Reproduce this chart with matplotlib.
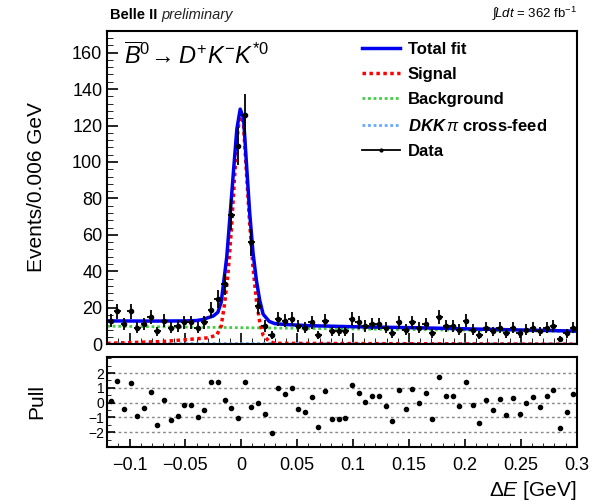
import numpy as np
import matplotlib
matplotlib.use("Agg")
import matplotlib.pyplot as plt
from matplotlib.lines import Line2D
from matplotlib.ticker import MultipleLocator

plt.rcParams['font.family'] = ['Liberation Sans', 'DejaVu Sans']
plt.rcParams['mathtext.fontset'] = 'custom'
plt.rcParams['mathtext.rm'] = 'Liberation Sans'
plt.rcParams['mathtext.it'] = 'Liberation Sans:italic'
plt.rcParams['mathtext.bf'] = 'Liberation Sans:bold'
plt.rcParams['mathtext.bfit'] = 'Liberation Sans:italic:bold'

# binning: 70 bins of 0.006 GeV from -0.12 to 0.3
bin_lo, bin_hi, n_bins = -0.12, 0.3, 70
edges = np.linspace(bin_lo, bin_hi, n_bins + 1)
centers = 0.5 * (edges[:-1] + edges[1:])

# data counts per bin
data_counts = [13, 18, 11, 18, 9, 11, 15, 7, 13, 9,
               10, 12, 12, 9, 12, 19, 25, 33, 71, 109,
               126, 56, 21, 10, 5, 14, 13, 14, 10, 9,
               12, 5, 13, 7, 7, 7, 14, 12, 10, 11,
               11, 9, 6, 12, 8, 12, 9, 11, 6, 15,
               10, 10, 8, 13, 8, 5, 9, 7, 9, 6,
               9, 6, 8, 9, 7, 9, 10, 3, 6, 9]

# pulls per bin
pulls = [0.1, 1.46, -0.43, 1.33, -0.92, -0.36, 0.72, -1.5, 0.2, -1.15,
         -0.88, -0.13, -0.13, -0.99, -0.49, 1.37, 1.37, 0.2, -0.34, -1.03,
         1.37, -0.27, -0.04, -0.79, -2.02, 0.97, 0.58, 0.97, -0.4, -0.61,
         0.38, -1.64, 0.79, -1.12, -1.08, -1.03, 1.21, 0.67, 0.02, 0.45,
         0.45, -0.2, -1.24, 0.88, -0.43, 0.92, -0.04, 0.67, -1.08, 1.75,
         0.45, 0.45, -0.22, 1.39, -0.18, -1.37, 0.2, -0.49, 0.27, -0.83,
         0.34, -0.74, -0.04, 0.4, -0.31, 0.45, 0.85, -1.69, -0.63, 0.56]

# fit curves
total_x = [-0.12, -0.08, -0.05, -0.04, -0.035, -0.03, -0.025, -0.021, -0.018,
           -0.0156, -0.013, -0.0099, -0.007, -0.004, -0.001, 0.002, 0.0045,
           0.0075, 0.0105, 0.0135, 0.0165, 0.0195, 0.025, 0.03, 0.04, 0.06,
           0.1, 0.16, 0.22, 0.3]
total_y = [12.8, 12.7, 12.8, 13.0, 13.5, 14.5, 15.5, 17.5, 23,
           35, 48, 72, 95, 118, 129, 124, 100,
           72, 50, 35, 24, 16.5, 12.5, 11.3, 10.8, 10.2,
           9.6, 9.0, 8.2, 7.2]

signal_x = [-0.12, -0.07, -0.05, -0.03, -0.022, -0.018, -0.015, -0.012, -0.009,
            -0.006, -0.003, -0.0005, 0.002, 0.0045, 0.0075, 0.0105, 0.0135,
            0.0165, 0.0195, 0.025, 0.03, 0.3]
signal_y = [0.5, 1.5, 2.5, 3.5, 5, 10, 22, 38, 62,
            92, 118, 127, 120, 95, 66, 42, 24,
            12, 5, 1.5, 0.5, 0.0]

bkg_x = [-0.12, 0.3]
bkg_y = [9.9, 7.0]

xfeed_x = [-0.12, 0.0, 0.3]
xfeed_y = [0.2, 0.4, 0.2]

xtick_vals = [-0.1, -0.05, 0, 0.05, 0.1, 0.15, 0.2, 0.25, 0.3]
xtick_labels = ['\u22120.1', '\u22120.05', '0', '0.05', '0.1', '0.15', '0.2', '0.25', '0.3']

fig = plt.figure(figsize=(6.02, 5.04), dpi=100)
ax = fig.add_axes([0.178, 0.317, 0.780, 0.622])
axp = fig.add_axes([0.178, 0.113, 0.780, 0.179])

ax.plot(bkg_x, bkg_y, color='#44cc44', lw=2, ls=(0, (1, 1)))
ax.plot(xfeed_x, xfeed_y, color='#66aaff', lw=2, ls=(0, (1, 1)))
ax.plot(signal_x, signal_y, color='red', lw=2.5, ls=(0, (1, 1)))
ax.plot(total_x, total_y, color='#0000ee', lw=2.5)
counts = np.array(data_counts, dtype=float)
ax.errorbar(centers, counts, yerr=np.sqrt(counts), xerr=0.003, fmt='o',
            color='black', ms=3, lw=1.3, capsize=0)

ax.set_xlim(bin_lo, bin_hi)
ax.set_ylim(0, 172)
ax.yaxis.set_major_locator(MultipleLocator(20))
ax.yaxis.set_minor_locator(MultipleLocator(4))
ax.xaxis.set_major_locator(MultipleLocator(0.05))
ax.xaxis.set_minor_locator(MultipleLocator(0.01))
ax.tick_params(axis='x', labelbottom=False)
ax.tick_params(which='both', direction='in', top=False, right=False, labelsize=13)
ax.tick_params(which='major', length=8, width=1.2)
ax.tick_params(which='minor', length=4)
for s in ax.spines.values():
    s.set_linewidth(1.5)
ax.set_ylabel('Events/0.006 GeV', fontsize=15)
ax.yaxis.set_label_coords(-0.13, 0.5)

ax.text(0.035, 0.965, r'$\overline{B}^{0}\!\rightarrow D^{+}K^{-}K^{*0}$',
        transform=ax.transAxes, fontsize=17, va='top', ha='left')

handles = [Line2D([], [], color='#0000ee', lw=2.5),
           Line2D([], [], color='red', lw=2.5, ls=(0, (1, 1))),
           Line2D([], [], color='#44cc44', lw=2, ls=(0, (1, 1))),
           Line2D([], [], color='#66aaff', lw=2, ls=(0, (1, 1))),
           Line2D([], [], color='black', lw=1.3, marker='o', ms=2)]
labels = ['Total fit', 'Signal', 'Background',
          r'$\mathbfit{DKK}\,\pi$ cross-feed', 'Data']
ax.legend(handles, labels, loc='upper left', bbox_to_anchor=(0.52, 1.0),
          frameon=False, prop={'weight': 'bold', 'size': 12},
          handlelength=2.3, handletextpad=0.45, labelspacing=0.62,
          borderaxespad=0.25)

fig.text(0.183, 0.956, 'Belle II', fontsize=10.5, fontweight='bold', va='bottom')
fig.text(0.268, 0.956, 'preliminary', fontsize=10.5, style='italic',
         va='bottom', color='#222222')
fig.text(0.958, 0.956, r'$\int\! Ldt$ = 362 fb$^{-1}$', fontsize=9.5,
         ha='right', va='bottom')

axp.plot(centers, pulls, 'o', color='black', ms=3)
for yv in [-2, -1, 0, 1, 2]:
    axp.axhline(yv, color='#888888', lw=1, ls=(0, (2, 2)), zorder=0)
axp.set_xlim(bin_lo, bin_hi)
axp.set_ylim(-3, 3.1)
axp.set_yticks([-2, -1, 0, 1, 2])
axp.set_yticklabels(['\u22122', '\u22121', '0', '1', '2'])
axp.yaxis.set_minor_locator(MultipleLocator(0.5))
axp.set_xticks(xtick_vals)
axp.set_xticklabels(xtick_labels)
axp.xaxis.set_minor_locator(MultipleLocator(0.01))
axp.tick_params(which='both', direction='in', top=False, right=False)
axp.tick_params(axis='x', labelsize=13, pad=7)
axp.tick_params(axis='y', labelsize=10, pad=2)
axp.tick_params(which='major', length=6, width=1.2)
axp.tick_params(which='minor', length=3)
for s in axp.spines.values():
    s.set_linewidth(1.5)
axp.set_ylabel('Pull', fontsize=15)
axp.yaxis.set_label_coords(-0.13, 0.5)
axp.set_xlabel(r'$\Delta E$ [GeV]', fontsize=15, loc='right')

fig.savefig('out.png', dpi=100)
